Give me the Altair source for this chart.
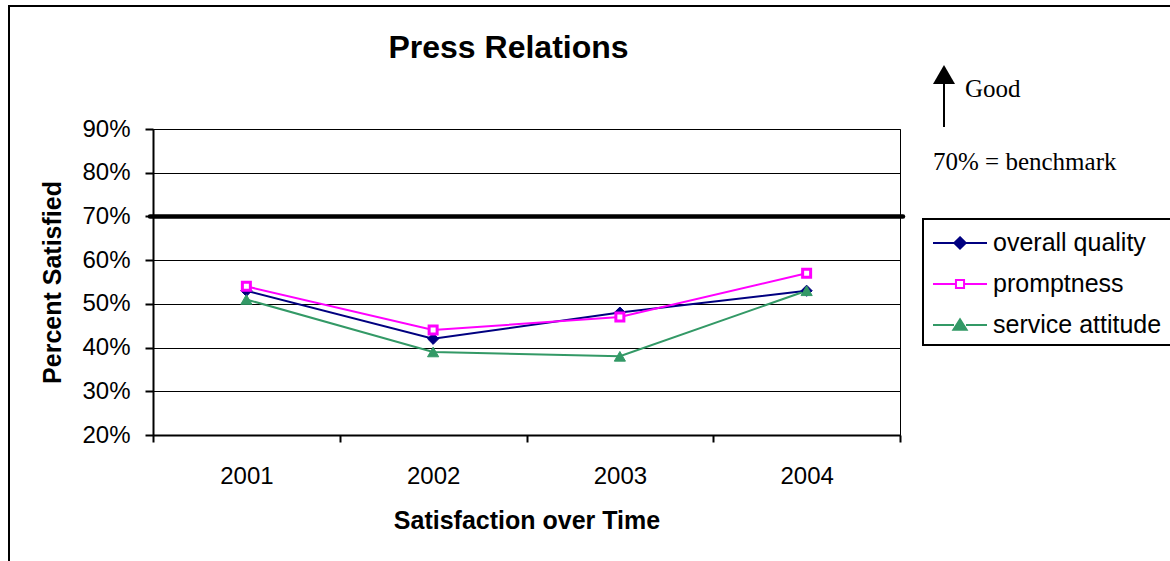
import altair as alt
import pandas as pd

# ---- data ----------------------------------------------------------------
years = [2001, 2002, 2003, 2004]
series_names = ["overall quality", "promptness", "service attitude"]
overall_quality = [53, 42, 48, 53]
promptness = [54, 44, 47, 57]
service_attitude = [51, 39, 38, 53]
benchmark = 70
y_ticks = [20, 30, 40, 50, 60, 70, 80, 90]
x_bounds = [2000.5, 2001.5, 2002.5, 2003.5, 2004.5]

chart_title = "Press Relations"
x_title = "Satisfaction over Time"
y_title = "Percent Satisfied"
arrow_label = "Good"
benchmark_note = "70% = benchmark"

# ---- styling -------------------------------------------------------------
line_colors = ["#000080", "#FF00FF", "#339966"]
marker_fills = ["#000080", "#FFFFFF", "#339966"]
marker_shapes = ["diamond", "square", "triangle-up"]
# legend swatches: a short line with the marker in the middle
legend_shapes = [
    "M-1.8,0H-0.38M0.38,0H1.8M0,-0.38L0.38,0L0,0.38L-0.38,0Z",
    "M-1.8,0H-0.3M0.3,0H1.8M-0.27,-0.27H0.27V0.27H-0.27Z",
    "M-1.8,0H-0.4M0.4,0H1.8M0,-0.38L0.44,0.32L-0.44,0.32Z",
]

FONT = "Liberation Sans"
SERIF = "Liberation Serif"
W, H = 747, 306

rows = []
for name, vals in zip(series_names, [overall_quality, promptness, service_attitude]):
    for yr, v in zip(years, vals):
        rows.append({"year": yr, "series": name, "value": v})
df = pd.DataFrame(rows)

x_enc = alt.X(
    "year:Q",
    scale=alt.Scale(domain=[x_bounds[0], x_bounds[-1]], nice=False, zero=False),
    axis=alt.Axis(
        values=x_bounds,
        labelExpr="datum.value < 2004 ? format(datum.value + 0.5, 'd') : ''",
        labelOffset=W / 8,
        labelFlush=False,
        labelOverlap=False,
        grid=False,
        tickSize=7,
        labelPadding=22,
        labelFontSize=24,
        title=x_title,
        titleX=W / 2,
        titleY=85,
        titleAlign="center",
        titleBaseline="middle",
        titleFontSize=25,
        titleFontWeight="bold",
    ),
)
y_enc = alt.Y(
    "value:Q",
    scale=alt.Scale(domain=[y_ticks[0], y_ticks[-1]], nice=False, zero=False),
    axis=alt.Axis(
        values=y_ticks,
        labelExpr="datum.value + '%'",
        grid=True,
        gridColor="black",
        gridWidth=1,
        tickSize=8,
        labelPadding=15,
        labelFontSize=24,
        title=y_title,
        titleX=-101,
        titleY=H / 2,
        titleAngle=270,
        titleAlign="center",
        titleBaseline="middle",
        titleFontSize=25,
        titleFontWeight="bold",
    ),
)

base = alt.Chart(df)
one_row = alt.Data(values=[{"k": 0}])

# outer chart frame (runs off the right and bottom edges)
frame = alt.Chart(one_row).mark_rect(fill=None, stroke="black", strokeWidth=2).encode(
    x=alt.value(-144), x2=alt.value(1040), y=alt.value(-123), y2=alt.value(460)
)

# legend box, also running off the right edge
legend_box = alt.Chart(one_row).mark_rect(fill="white", stroke="black", strokeWidth=2).encode(
    x=alt.value(770), x2=alt.value(1040), y=alt.value(90), y2=alt.value(216)
)

bench = alt.Chart(alt.Data(values=[{"b": benchmark}])).mark_rule(
    color="black", strokeWidth=4.5, strokeCap="round"
).encode(y="b:Q", x=alt.value(-3), x2=alt.value(W + 3))

lines = base.mark_line(strokeWidth=2).encode(
    x=x_enc,
    y=y_enc,
    color=alt.Color("series:N", scale=alt.Scale(domain=series_names, range=line_colors), legend=None),
)

# the square markers have a thick magenta edge around a white core
points = base.mark_point(opacity=1).encode(
    x=x_enc,
    y=y_enc,
    fill=alt.Fill("series:N", scale=alt.Scale(domain=series_names, range=marker_fills), legend=None),
    stroke=alt.Stroke("series:N", scale=alt.Scale(domain=series_names, range=line_colors), legend=None),
    shape=alt.Shape("series:N", scale=alt.Scale(domain=series_names, range=marker_shapes), legend=None),
    size=alt.condition("datum.series == 'promptness'", alt.value(64), alt.value(125)),
    strokeWidth=alt.condition("datum.series == 'promptness'", alt.value(3), alt.value(1)),
)

legend = alt.Legend(
    title=None,
    orient="none",
    legendX=770,
    legendY=90,
    padding=8,
    labelFont=FONT,
    labelFontSize=25,
    labelColor="black",
    labelLimit=600,
    symbolSize=900,
    symbolStrokeWidth=2,
    symbolOffset=13,
    labelOffset=17,
    rowPadding=12,
    symbolOpacity=1,
)

legend_layer = base.transform_filter("datum.value < 0").mark_point(opacity=1, strokeWidth=2).encode(
    x=x_enc,
    y=y_enc,
    fill=alt.Fill("series:N", scale=alt.Scale(domain=series_names, range=marker_fills), legend=legend),
    stroke=alt.Stroke("series:N", scale=alt.Scale(domain=series_names, range=line_colors), legend=legend),
    shape=alt.Shape("series:N", scale=alt.Scale(domain=series_names, range=legend_shapes), legend=legend),
)

title_text = alt.Chart(one_row).mark_text(
    font=FONT, fontSize=32, fontWeight="bold", align="center", baseline="alphabetic", color="black"
).encode(x=alt.value(355.5), y=alt.value(-71.5), text=alt.value(chart_title))

arrow_shaft = alt.Chart(one_row).mark_rule(color="black", strokeWidth=2).encode(
    x=alt.value(791), y=alt.value(-2), y2=alt.value(-50)
)
arrow_head = alt.Chart(one_row).mark_point(
    shape="triangle-up", filled=True, color="black", opacity=1, size=484
).encode(x=alt.value(791), y=alt.value(-54.5))

good_text = alt.Chart(one_row).mark_text(
    font=SERIF, fontSize=25, align="left", baseline="alphabetic", color="black"
).encode(x=alt.value(812), y=alt.value(-32), text=alt.value(arrow_label))

bench_text = alt.Chart(one_row).mark_text(
    font=SERIF, fontSize=25, align="left", baseline="alphabetic", color="black"
).encode(x=alt.value(780), y=alt.value(41), text=alt.value(benchmark_note))

chart = (
    alt.layer(
        frame, legend_box, bench, lines, points, legend_layer,
        title_text, arrow_shaft, arrow_head, good_text, bench_text,
    )
    .resolve_scale(fill="independent", stroke="independent", shape="independent")
    .properties(
        width=W,
        height=H,
        autosize=alt.AutoSizeParams(type="none"),
        padding={"left": 153, "top": 129, "right": 270, "bottom": 126},
        background="white",
    )
    .configure(font=FONT)
    .configure_view(stroke="black", strokeWidth=1)
    .configure_axis(
        domainColor="black",
        domainWidth=2,
        tickColor="black",
        tickWidth=2,
        labelColor="black",
        titleColor="black",
        labelFont=FONT,
        titleFont=FONT,
    )
)

chart.save("out.html", embed_options={"renderer": "svg", "actions": False})
